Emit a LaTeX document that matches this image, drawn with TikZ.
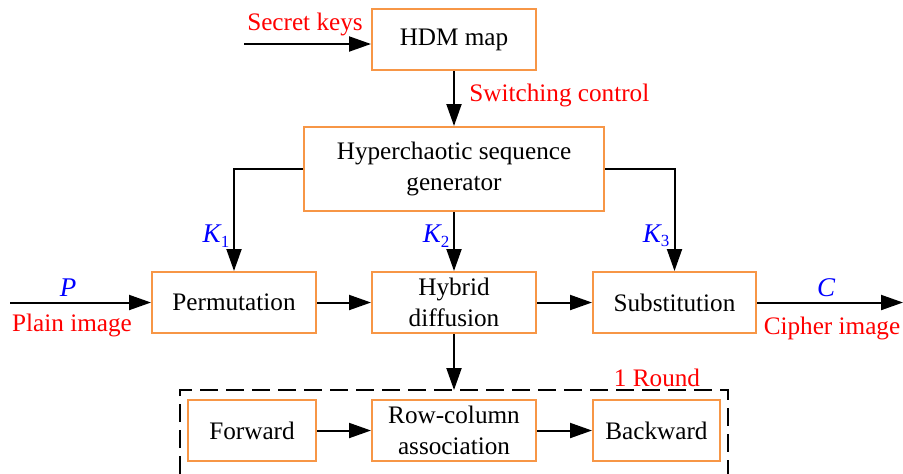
\documentclass[tikz,border=0pt]{standalone}
\usepackage{fontspec}
\setmainfont{Liberation Serif}
\usetikzlibrary{arrows.meta}
\definecolor{boxorange}{RGB}{247,150,70}
\tikzset{
  blk/.style={draw=boxorange, line width=1pt, fill=white, align=center, inner sep=0pt, font=\fontsize{12.6}{15.5}\selectfont},
  arr/.style={line width=1pt, -{Triangle[length=11pt,width=7.5pt]}},
  redlbl/.style={text=red, inner sep=0pt, font=\fontsize{12.6}{15}\selectfont},
  bluelbl/.style={text=blue, inner sep=0pt, font=\fontsize{13.5}{15}\selectfont\itshape},
}
\newcommand{\Ksub}[1]{K\raisebox{-0.35ex}{\fontsize{8.5}{9}\selectfont\upshape #1}}
\begin{document}
\begin{tikzpicture}[x=0.5pt,y=-0.5pt]
\useasboundingbox (0,0) rectangle (903,473);
% boxes
\node[blk, minimum width=82pt, minimum height=30.5pt] (hdm) at (454,39.5) {HDM map};
\node[blk, minimum width=150pt, minimum height=42pt] (hyp) at (454,169) {Hyperchaotic sequence\\generator};
\node[blk, minimum width=82pt, minimum height=30.5pt] (perm) at (234,302.5) {Permutation};
\node[blk, minimum width=82pt, minimum height=30.5pt] (hyb) at (454,302.5) {Hybrid\\diffusion};
\node[blk, minimum width=81.5pt, minimum height=30.5pt] (sub) at (674.5,302.5) {Substitution};
\node[blk, minimum width=64pt, minimum height=30.5pt] (fw) at (252,430.5) {Forward};
\node[blk, minimum width=82pt, minimum height=30.5pt] (rc) at (454,430.5) {Row-column\\association};
\node[blk, minimum width=63.5pt, minimum height=30.5pt] (bw) at (656.5,430.5) {Backward};
% coordinates
\coordinate (sk) at (244,44);
\coordinate (pin) at (10,302.5);
\coordinate (cout) at (903,302.5);
\coordinate (rtop) at (454,390);
% dashed round box
\draw[line width=1pt, dash pattern=on 9pt off 4pt] (180,500) -- (180,390) -- (728,390) -- (728,500);
% connectors
\draw[arr] (sk) -- (sk -| hdm.west);
\draw[arr] (hdm.south) -- (hyp.north);
\draw[arr] (hyp.west) -| (perm.north);
\draw[arr] (hyp.east) -| (sub.north);
\draw[arr] (hyp.south) -- (hyb.north);
\draw[arr] (pin) -- (perm.west);
\draw[arr] (perm.east) -- (hyb.west);
\draw[arr] (hyb.east) -- (sub.west);
\draw[arr] (sub.east) -- (cout);
\draw[arr] (hyb.south) -- (rtop);
\draw[arr] (fw.east) -- (rc.west);
\draw[arr] (rc.east) -- (bw.west);
% labels
\node[redlbl] (lsk) at (305,24) {Secret keys};
\node[redlbl, anchor=west] (lsw) at (469,95) {Switching control};
\node[bluelbl] (k1) at (216,236) {\Ksub{1}};
\node[bluelbl] (k2) at (436,236) {\Ksub{2}};
\node[bluelbl] (k3) at (656,236) {\Ksub{3}};
\node[bluelbl] (lp) at (68,288) {P};
\node[redlbl] (lpi) at (72,325) {Plain image};
\node[bluelbl] (lc) at (826,288) {C};
\node[redlbl] (lci) at (832,328) {Cipher image};
\node[redlbl] (lr) at (657,378) {1 Round};
\end{tikzpicture}
\end{document}
